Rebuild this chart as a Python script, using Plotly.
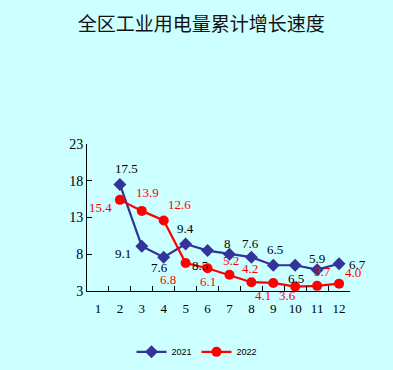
import plotly.graph_objects as go

months = ["1", "2", "3", "4", "5", "6", "7", "8", "9", "10", "11", "12"]
x_pts = ["2", "3", "4", "5", "6", "7", "8", "9", "10", "11", "12"]
v2021 = [17.5, 9.1, 7.6, 9.4, 8.5, 8.0, 7.6, 6.5, 6.5, 5.9, 6.7]
v2022 = [15.4, 13.9, 12.6, 6.8, 6.1, 5.2, 4.2, 4.1, 3.6, 3.7, 4.0]
lbl2021 = ["17.5", "9.1", "7.6", "9.4", "8.5", "8", "7.6", "6.5", "6.5", "5.9", "6.7"]
lbl2022 = ["15.4", "13.9", "12.6", "6.8", "6.1", "5.2", "4.2", "4.1", "3.6", "3.7", "4.0"]
yticks = [3, 8, 13, 18, 23]
title = "全区工业用电量累计增长速度"

# label pixel offsets (styling)
off2021 = [(7, 16), (-19, -7), (-4, -10), (0, 15), (-8, -15), (-2, 11), (-1, 14), (2, 16), (1, -13), (0, 11), (18, -1)]
off2022 = [(-19, -8), (6, 18), (16, 16), (-18, -16), (0, -13), (2, 14), (-1, 14), (-10, -13), (-8, -9), (5, 14), (14, 11)]

BLUE = "#333399"
RED = "#FF0000"
BG = "#CCFFFF"
SERIF = "Liberation Serif, DejaVu Serif, serif"

fig = go.Figure()
fig.add_trace(go.Scatter(x=x_pts, y=v2021, mode="lines+markers", name="2021",
                         line=dict(color=BLUE, width=2.2),
                         marker=dict(symbol="diamond", size=10, color=BLUE)))
fig.add_trace(go.Scatter(x=x_pts, y=v2022, mode="lines+markers", name="2022",
                         line=dict(color=RED, width=2.2),
                         marker=dict(symbol="circle", size=10, color=RED)))

for xs, vs, ls, offs, col in [(x_pts, v2021, lbl2021, off2021, "#000000"),
                              (x_pts, v2022, lbl2022, off2022, RED)]:
    for xv, yv, lb, (dx, dy) in zip(xs, vs, ls, offs):
        fig.add_annotation(x=months.index(xv), y=yv, text=lb, showarrow=False,
                           xshift=dx, yshift=dy,
                           font=dict(family=SERIF, size=13, color=col))

fig.update_layout(
    width=393, height=370,
    paper_bgcolor=BG, plot_bgcolor=BG,
    margin=dict(l=87, r=43, t=144, b=79, autoexpand=False),
    title=dict(text=title, x=0.512, xanchor="center", xref="container",
               y=0.933, yanchor="middle", yref="container",
               font=dict(family="Noto Sans CJK SC", size=19, color="#111111")),
    showlegend=True,
    legend=dict(orientation="h", x=0.50, xanchor="center", xref="container",
                y=0.049, yanchor="middle", yref="container",
                font=dict(family="Liberation Sans, Arial", size=9, color="#000000"),
                bgcolor="rgba(0,0,0,0)", entrywidth=20),
    xaxis=dict(type="category", categoryorder="array", categoryarray=months,
               range=[-0.5, 11.5], showline=True, linecolor="#000000", linewidth=1,
               ticks="inside", tickson="boundaries", ticklen=5, tickcolor="#000000",
               showgrid=False, zeroline=False, tickangle=0, automargin=False,
               ticklabelstandoff=5,
               tickfont=dict(family=SERIF, size=13, color="#000000")),
    yaxis=dict(range=[3, 23], tickvals=yticks, showline=True, linecolor="#000000",
               linewidth=1, ticks="inside", ticklen=5, tickcolor="#000000",
               showgrid=False, zeroline=False, automargin=False,
               tickfont=dict(family=SERIF, size=14, color="#000000")),
)

fig.write_html("out.html", config={"displayModeBar": False},
               post_script="document.body.style.margin='0';document.body.style.background='" + BG + "';")
